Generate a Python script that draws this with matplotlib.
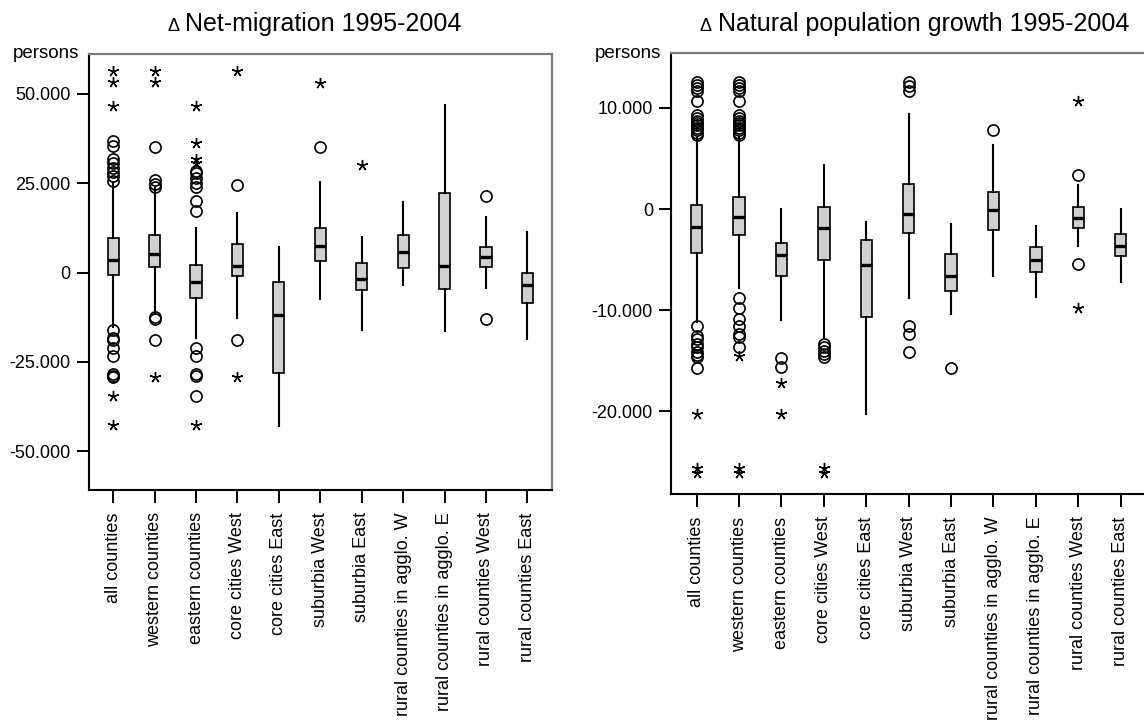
import numpy as np
import matplotlib
matplotlib.use("Agg")
import matplotlib.pyplot as plt

plt.rcParams['font.family'] = ['Liberation Sans', 'DejaVu Sans']

categories = ["all counties", "western counties", "eastern counties", "core cities West",
              "core cities East", "suburbia West", "suburbia East", "rural counties in agglo. W",
              "rural counties in agglo. E", "rural counties West", "rural counties East"]

# net migration 1995-2004, persons
mig_med = [3545, 5220, -2620, 1960, -11990, 7560, -1690, 5690, 1870, 4290, -3560]
mig_q1 = [-560, 1550, -7020, -930, -28180, 3360, -4780, 1400, -4490, 1680, -8430]
mig_q3 = [9790, 10450, 2250, 7930, -2620, 12410, 2810, 10540, 22390, 7280, -90]
mig_lo = [-15260, -11520, -18350, -12730, -43070, -7300, -16200, -3370, -16480, -4210, -18540]
mig_hi = [25000, 23600, 12590, 16600, 7280, 25470, 10070, 19870, 46920, 15490, 11470]
mig_circles = [
    [36850, 35540, 31720, 30600, 29390, 28080, 27150, 25650,
     -16200, -18260, -18820, -21160, -23500, -28370, -28840, -29310],
    [35070, 25930, 24810, 24070, -12450, -12920, -18820],
    [28540, 27800, 26400, 25190, 24070, 20060, 17350,
     -21160, -23500, -28370, -28840, -34650],
    [24530, -18820],
    [],
    [35070],
    [],
    [],
    [],
    [21550, -12920],
    [],
]
mig_stars = [
    [56440, 53450, 46640, -34650, -42700],
    [56440, 53450, -29310],
    [46640, 36190, 31720, 30600, -42700],
    [56440, -29310],
    [],
    [53170],
    [30130],
    [],
    [],
    [],
    [],
]

# natural population growth 1995-2004, persons
nat_med = [-1740, -820, -4520, -1900, -5510, -520, -6590, -100, -5020, -920, -3700]
nat_q1 = [-4300, -2560, -6590, -5080, -10720, -2390, -8130, -2070, -6260, -1840, -4690]
nat_q3 = [390, 1150, -3380, 230, -3050, 2520, -4460, 1700, -3770, 160, -2490]
nat_lo = [-11210, -7770, -10980, -12750, -20230, -8750, -10390, -6590, -8660, -3700, -7250]
nat_hi = [7110, 7110, 0, 4330, -1310, 9410, -1510, 6300, -1640, 2360, 0]
nat_circles = [
    [12520, 12250, 12000, 11700, 10720, 9250, 9000, 8750, 8500, 8260, 8000, 7770, 7500, 7280,
     -11540, -12520, -12850, -13300, -13670, -14160, -14400, -14660, -15700],
    [12520, 12250, 12000, 11700, 10720, 9250, 9000, 8750, 8500, 8260, 8000, 7770, 7500, 7280,
     -8750, -9740, -10890, -11540, -12360, -12690, -13670],
    [-14720, -15640],
    [-13340, -13670, -14000, -14330, -14660],
    [],
    [12520, 12200, 11700, -11540, -12360, -14160],
    [-15700],
    [7770],
    [],
    [3340, -5440],
    [],
]
nat_stars = [
    [-20230, -25640, -26130],
    [-14490, -25640, -26130],
    [-17210, -20230],
    [-25640, -26130],
    [],
    [],
    [],
    [],
    [],
    [10660, -9740],
    [],
]


def thousands(v, pos=None):
    return f"{v:,.0f}".replace(",", ".")


def draw_panel(ax, med, q1, q3, lo, hi, circles, stars, yticks, ylim, xlim):
    pos = np.arange(1, len(categories) + 1)
    stats = [dict(med=m, q1=a, q3=b, whislo=w0, whishi=w1, fliers=[])
             for m, a, b, w0, w1 in zip(med, q1, q3, lo, hi)]
    ax.bxp(stats, positions=pos, widths=0.27, patch_artist=True, showfliers=False,
           showcaps=False,
           boxprops=dict(facecolor='#d0d0d0', edgecolor='black', linewidth=1.2),
           medianprops=dict(color='black', linewidth=2.4),
           whiskerprops=dict(color='black', linewidth=1.5))
    for p, c, s in zip(pos, circles, stars):
        if c:
            ax.plot([p] * len(c), c, 'o', mfc='none', mec='black', ms=8, mew=1.2)
        if s:
            ax.plot([p] * len(s), s, marker=(5, 2, 0), ls='none', color='black', ms=8, mew=1.0)
    ax.set_xlim(*xlim)
    ax.set_ylim(*ylim)
    ax.set_yticks(yticks)
    ax.yaxis.set_major_formatter(plt.FuncFormatter(thousands))
    ax.set_xticks(pos)
    ax.set_xticklabels(categories, rotation=90, fontsize=13)
    ax.tick_params(axis='both', direction='out', length=9, width=1.4, labelsize=13, pad=4)
    ax.tick_params(axis='x', pad=7)
    for side in ('left', 'bottom'):
        ax.spines[side].set_linewidth(1.5)
        ax.spines[side].set_color('black')
    for side in ('top', 'right'):
        ax.spines[side].set_linewidth(1.6)
        ax.spines[side].set_color('#7a7a7a')
    ax.text(-0.02, 1.0, "persons", transform=ax.transAxes, ha='right', va='center', fontsize=13.5)


fig = plt.figure(figsize=(11.44, 7.2), dpi=100)
ax1 = fig.add_axes([0.0775, 0.3194, 0.405, 0.6056])
ax2 = fig.add_axes([0.5865, 0.3135, 0.4156, 0.6125])

draw_panel(ax1, mig_med, mig_q1, mig_q3, mig_lo, mig_hi, mig_circles, mig_stars,
           [-50000, -25000, 0, 25000, 50000], (-60900, 61200), (0.406, 11.594))
draw_panel(ax2, nat_med, nat_q1, nat_q3, nat_lo, nat_hi, nat_circles, nat_stars,
           [-20000, -10000, 0, 10000], (-28200, 15400), (0.394, 11.606))

# panel titles: small delta sign followed by the title text
for x0, title in [(167, "Net-migration 1995-2004"), (700, "Natural population growth 1995-2004")]:
    fig.text(x0 / 1144, 1 - 31 / 720, "\u0394", ha='left', va='baseline', fontsize=13,
             fontweight='light')
    fig.text((x0 + 18) / 1144, 1 - 31 / 720, title, ha='left', va='baseline', fontsize=18)

fig.savefig("out.png", dpi=100)
